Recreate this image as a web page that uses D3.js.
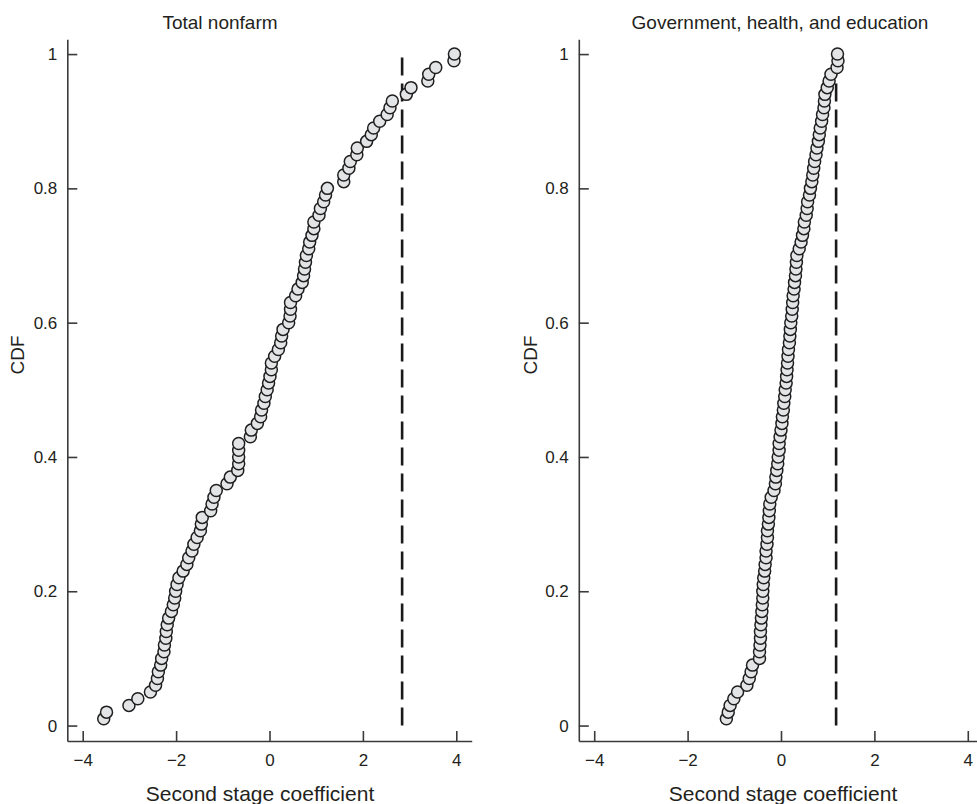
<!DOCTYPE html>
<html>
<head>
<meta charset="utf-8">
<script src="https://cdn.jsdelivr.net/npm/d3@7"></script>
<style>
  html, body { margin: 0; padding: 0; background: #fff; }
  svg { display: block; }
  text { font-family: "Liberation Sans", Arial, Helvetica, sans-serif; fill: #231f20; }
</style>
</head>
<body>
<script>
// ---- Data ----
const cdf = [0.01,0.02,0.03,0.04,0.05,0.06,0.07,0.08,0.09,0.10,
  0.11,0.12,0.13,0.14,0.15,0.16,0.17,0.18,0.19,0.20,
  0.21,0.22,0.23,0.24,0.25,0.26,0.27,0.28,0.29,0.30,
  0.31,0.32,0.33,0.34,0.35,0.36,0.37,0.38,0.39,0.40,
  0.41,0.42,0.43,0.44,0.45,0.46,0.47,0.48,0.49,0.50,
  0.51,0.52,0.53,0.54,0.55,0.56,0.57,0.58,0.59,0.60,
  0.61,0.62,0.63,0.64,0.65,0.66,0.67,0.68,0.69,0.70,
  0.71,0.72,0.73,0.74,0.75,0.76,0.77,0.78,0.79,0.80,
  0.81,0.82,0.83,0.84,0.85,0.86,0.87,0.88,0.89,0.90,
  0.91,0.92,0.93,0.94,0.95,0.96,0.97,0.98,0.99,1.00];

const totalNonfarm = [-3.55,-3.49,-3.01,-2.82,-2.55,-2.44,-2.40,-2.38,-2.33,-2.31,
  -2.26,-2.25,-2.22,-2.21,-2.19,-2.16,-2.10,-2.06,-2.03,-2.01,
  -1.98,-1.94,-1.85,-1.77,-1.73,-1.66,-1.62,-1.55,-1.48,-1.46,
  -1.44,-1.26,-1.23,-1.19,-1.14,-0.91,-0.84,-0.68,-0.66,-0.66,
  -0.66,-0.66,-0.41,-0.39,-0.26,-0.19,-0.17,-0.12,-0.09,-0.05,
  -0.02,0.01,0.04,0.04,0.11,0.19,0.24,0.26,0.29,0.41,
  0.44,0.45,0.45,0.56,0.61,0.70,0.73,0.75,0.77,0.79,
  0.84,0.86,0.91,0.95,0.95,1.06,1.09,1.16,1.20,1.24,
  1.59,1.59,1.70,1.73,1.87,1.88,2.08,2.18,2.23,2.36,
  2.52,2.58,2.63,2.93,3.03,3.39,3.41,3.56,3.95,3.96];

const govHealthEdu = [-1.17,-1.13,-1.09,-1.01,-0.93,-0.73,-0.68,-0.64,-0.61,-0.46,
  -0.46,-0.45,-0.44,-0.44,-0.43,-0.42,-0.41,-0.40,-0.39,-0.39,
  -0.38,-0.37,-0.35,-0.34,-0.32,-0.32,-0.30,-0.29,-0.29,-0.27,
  -0.26,-0.25,-0.24,-0.21,-0.15,-0.12,-0.11,-0.09,-0.07,-0.06,
  -0.04,-0.04,-0.02,0.00,0.02,0.03,0.05,0.06,0.08,0.09,
  0.11,0.12,0.13,0.14,0.15,0.16,0.18,0.19,0.20,0.21,
  0.23,0.24,0.25,0.26,0.28,0.29,0.31,0.32,0.33,0.34,
  0.39,0.43,0.46,0.49,0.50,0.54,0.56,0.57,0.61,0.63,
  0.66,0.68,0.70,0.72,0.75,0.77,0.80,0.82,0.84,0.87,
  0.89,0.92,0.93,0.94,0.99,1.03,1.07,1.20,1.22,1.21];

const panelTitles = ["Total nonfarm", "Government, health, and education"];
const thresholds = [2.84, 1.18];
const xTicks = [-4, -2, 0, 2, 4];
const yTicks = [0, 0.2, 0.4, 0.6, 0.8, 1];
const xLabel = "Second stage coefficient";
const yLabel = "CDF";

// ---- Drawing ----
const W = 977, H = 804;
const svg = d3.select("body").append("svg").attr("width", W).attr("height", H);

const panels = [
  { series: totalNonfarm, title: panelTitles[0], thr: thresholds[0], x0: 67.3, x1: 471.7, titleX: 220, xLabelX: 260, yLabelX: 17 },
  { series: govHealthEdu, title: panelTitles[1], thr: thresholds[1], x0: 578.8, x1: 983.2, titleX: 780, xLabelX: 783, yLabelX: 530 }
];

const yScale = d3.scaleLinear().domain([-0.023, 1.022]).range([741, 39.3]);
const fmtX = d => d < 0 ? "\u2212" + Math.abs(d) : String(d);

panels.forEach(p => {
  const xScale = d3.scaleLinear().domain([-4.33, 4.33]).range([p.x0, p.x1]);
  const g = svg.append("g");

  const ya = g.append("g")
    .attr("transform", `translate(${p.x0},0)`)
    .call(d3.axisLeft(yScale).tickValues(yTicks).tickSizeInner(-10).tickSizeOuter(0).tickPadding(10).tickFormat(d => String(d)));
  const xa = g.append("g")
    .attr("transform", `translate(0,${yScale.range()[0]})`)
    .call(d3.axisBottom(xScale).tickValues(xTicks).tickSizeInner(-10).tickSizeOuter(0).tickPadding(13).tickFormat(fmtX));

  [ya, xa].forEach(a => {
    a.select(".domain").attr("stroke", "#3a3a3a").attr("stroke-width", 1.6);
    a.selectAll(".tick line").attr("stroke", "#3a3a3a").attr("stroke-width", 1.6);
    a.selectAll(".tick text").attr("font-size", 17).attr("fill", "#231f20")
      .attr("font-family", "'Liberation Sans', Arial, sans-serif");
  });

  g.append("line")
    .attr("x1", xScale(p.thr)).attr("x2", xScale(p.thr))
    .attr("y1", yScale(0)).attr("y2", yScale(1))
    .attr("stroke", "#1a1a1a").attr("stroke-width", 2.6)
    .attr("stroke-dasharray", "18,8");

  g.append("g").selectAll("circle")
    .data(p.series.map((v, i) => ({ x: v, y: cdf[i] })))
    .join("circle")
    .attr("cx", d => xScale(d.x))
    .attr("cy", d => yScale(d.y))
    .attr("r", 6)
    .attr("fill", "#e3e4e5")
    .attr("stroke", "#1f1f1f")
    .attr("stroke-width", 1.5);

  g.append("text")
    .attr("x", p.titleX).attr("y", 29)
    .attr("text-anchor", "middle")
    .attr("font-size", 19)
    .text(p.title);

  g.append("text")
    .attr("x", p.xLabelX).attr("y", 801)
    .attr("text-anchor", "middle")
    .attr("font-size", 21)
    .text(xLabel);

  g.append("text")
    .attr("transform", `translate(${p.yLabelX + 7},355) rotate(-90)`)
    .attr("text-anchor", "middle")
    .attr("font-size", 19)
    .text(yLabel);
});
</script>
</body>
</html>
